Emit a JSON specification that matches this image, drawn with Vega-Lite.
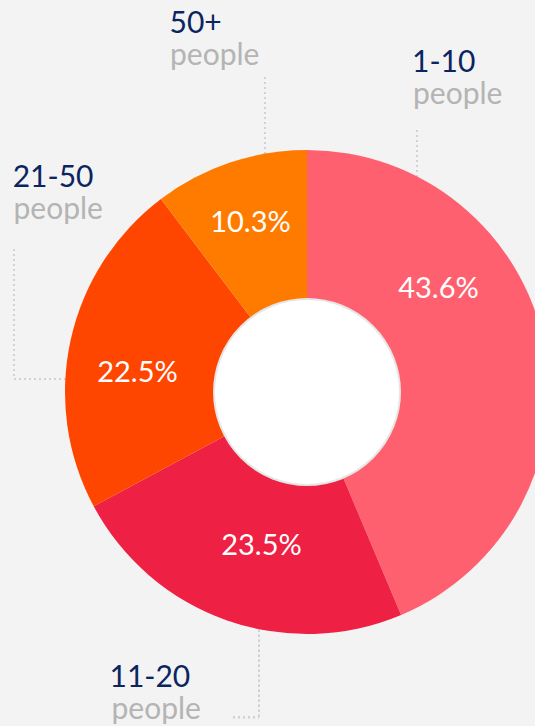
{
  "$schema": "https://vega.github.io/schema/vega-lite/v6.json",
  "width": 535,
  "height": 726,
  "autosize": "none",
  "padding": 0,
  "background": "#f3f3f3",
  "config": {"view": {"stroke": null}, "axis": {"disable": true}},
  "data": {
    "values": [
      {"category": "1-10", "share": 0.436},
      {"category": "11-20", "share": 0.235},
      {"category": "21-50", "share": 0.225},
      {"category": "50+", "share": 0.103}
    ]
  },
  "layer": [
    {
      "mark": {"type": "rule", "stroke": "#d2d2d2", "strokeWidth": 2, "strokeDash": [2, 3]},
      "encoding": {
        "x": {"datum": 0.4545, "type": "quantitative", "scale": {"domain": [-1.2686, 0.94215], "nice": false, "zero": false}},
        "y": {"datum": 1.0826, "type": "quantitative", "scale": {"domain": [-1.38017, 1.61983], "nice": false, "zero": false}},
        "y2": {"datum": 0.85}
      }
    },
    {
      "mark": {"type": "rule", "stroke": "#d2d2d2", "strokeWidth": 2, "strokeDash": [2, 3]},
      "encoding": {
        "x": {"datum": -0.1736, "type": "quantitative", "scale": {"domain": [-1.2686, 0.94215], "nice": false, "zero": false}},
        "y": {"datum": 1.3017, "type": "quantitative", "scale": {"domain": [-1.38017, 1.61983], "nice": false, "zero": false}},
        "y2": {"datum": 0.95}
      }
    },
    {
      "mark": {"type": "rule", "stroke": "#d2d2d2", "strokeWidth": 2, "strokeDash": [2, 3]},
      "encoding": {
        "x": {"datum": -1.2107, "type": "quantitative", "scale": {"domain": [-1.2686, 0.94215], "nice": false, "zero": false}},
        "y": {"datum": 0.5909, "type": "quantitative", "scale": {"domain": [-1.38017, 1.61983], "nice": false, "zero": false}},
        "y2": {"datum": 0.0537}
      }
    },
    {
      "mark": {"type": "rule", "stroke": "#d2d2d2", "strokeWidth": 2, "strokeDash": [2, 3]},
      "encoding": {
        "x": {"datum": -1.2107, "type": "quantitative", "scale": {"domain": [-1.2686, 0.94215], "nice": false, "zero": false}},
        "x2": {"datum": -0.95},
        "y": {"datum": 0.0537, "type": "quantitative", "scale": {"domain": [-1.38017, 1.61983], "nice": false, "zero": false}}
      }
    },
    {
      "mark": {"type": "rule", "stroke": "#d2d2d2", "strokeWidth": 2, "strokeDash": [2, 3]},
      "encoding": {
        "x": {"datum": -0.1983, "type": "quantitative", "scale": {"domain": [-1.2686, 0.94215], "nice": false, "zero": false}},
        "y": {"datum": -0.9, "type": "quantitative", "scale": {"domain": [-1.38017, 1.61983], "nice": false, "zero": false}},
        "y2": {"datum": -1.3442}
      }
    },
    {
      "mark": {"type": "rule", "stroke": "#d2d2d2", "strokeWidth": 2, "strokeDash": [2, 3]},
      "encoding": {
        "x": {"datum": -0.3058, "type": "quantitative", "scale": {"domain": [-1.2686, 0.94215], "nice": false, "zero": false}},
        "x2": {"datum": -0.1983},
        "y": {"datum": -1.3442, "type": "quantitative", "scale": {"domain": [-1.38017, 1.61983], "nice": false, "zero": false}}
      }
    },
    {
      "mark": {"type": "arc", "radius": 242},
      "encoding": {
        "x": {"datum": 0, "type": "quantitative", "scale": {"domain": [-1.2686, 0.94215], "nice": false, "zero": false}},
        "y": {"datum": 0, "type": "quantitative", "scale": {"domain": [-1.38017, 1.61983], "nice": false, "zero": false}},
        "theta": {"field": "share", "type": "quantitative", "stack": true},
        "order": {"field": "category", "type": "ordinal"},
        "color": {
          "field": "category",
          "type": "nominal",
          "legend": null,
          "scale": {"domain": ["1-10", "11-20", "21-50", "50+"], "range": ["#ff6070", "#ee2044", "#ff4600", "#ff7b00"]}
        }
      }
    },
    {
      "transform": [{"filter": "datum.category === '1-10'"}],
      "mark": {"type": "point", "shape": "circle", "filled": true, "fill": "#ffffff", "fillOpacity": 1, "stroke": "#e6e6e6", "strokeWidth": 2, "strokeOpacity": 1, "size": 34596},
      "encoding": {
        "x": {"datum": 0, "type": "quantitative", "scale": {"domain": [-1.2686, 0.94215], "nice": false, "zero": false}},
        "y": {"datum": 0, "type": "quantitative", "scale": {"domain": [-1.38017, 1.61983], "nice": false, "zero": false}}
      }
    },
    {
      "transform": [{"filter": "datum.category === '1-10'"}],
      "mark": {"type": "text", "font": "Lato", "fontSize": 29, "fill": "#ffffff", "align": "center", "baseline": "alphabetic"},
      "encoding": {
        "text": {"field": "share", "type": "quantitative", "format": ".1%"},
        "x": {"datum": 0.5434, "type": "quantitative", "scale": {"domain": [-1.2686, 0.94215], "nice": false, "zero": false}},
        "y": {"datum": 0.3884, "type": "quantitative", "scale": {"domain": [-1.38017, 1.61983], "nice": false, "zero": false}}
      }
    },
    {
      "transform": [{"filter": "datum.category === '11-20'"}],
      "mark": {"type": "text", "font": "Lato", "fontSize": 29, "fill": "#ffffff", "align": "center", "baseline": "alphabetic"},
      "encoding": {
        "text": {"field": "share", "type": "quantitative", "format": ".1%"},
        "x": {"datum": -0.188, "type": "quantitative", "scale": {"domain": [-1.2686, 0.94215], "nice": false, "zero": false}},
        "y": {"datum": -0.6736, "type": "quantitative", "scale": {"domain": [-1.38017, 1.61983], "nice": false, "zero": false}}
      }
    },
    {
      "transform": [{"filter": "datum.category === '21-50'"}],
      "mark": {"type": "text", "font": "Lato", "fontSize": 29, "fill": "#ffffff", "align": "center", "baseline": "alphabetic"},
      "encoding": {
        "text": {"field": "share", "type": "quantitative", "format": ".1%"},
        "x": {"datum": -0.7004, "type": "quantitative", "scale": {"domain": [-1.2686, 0.94215], "nice": false, "zero": false}},
        "y": {"datum": 0.0413, "type": "quantitative", "scale": {"domain": [-1.38017, 1.61983], "nice": false, "zero": false}}
      }
    },
    {
      "transform": [{"filter": "datum.category === '50+'"}],
      "mark": {"type": "text", "font": "Lato", "fontSize": 29, "fill": "#ffffff", "align": "center", "baseline": "alphabetic"},
      "encoding": {
        "text": {"field": "share", "type": "quantitative", "format": ".1%"},
        "x": {"datum": -0.2335, "type": "quantitative", "scale": {"domain": [-1.2686, 0.94215], "nice": false, "zero": false}},
        "y": {"datum": 0.6612, "type": "quantitative", "scale": {"domain": [-1.38017, 1.61983], "nice": false, "zero": false}}
      }
    },
    {
      "transform": [{"filter": "datum.category === '1-10'"}],
      "mark": {"type": "text", "font": "Lato", "fontSize": 30, "fill": "#0b2560", "align": "left", "baseline": "alphabetic"},
      "encoding": {
        "text": {"field": "category"},
        "x": {"datum": 0.4339, "type": "quantitative", "scale": {"domain": [-1.2686, 0.94215], "nice": false, "zero": false}},
        "y": {"datum": 1.3211, "type": "quantitative", "scale": {"domain": [-1.38017, 1.61983], "nice": false, "zero": false}}
      }
    },
    {
      "transform": [{"filter": "datum.category === '1-10'"}],
      "mark": {"type": "text", "font": "Lato", "fontSize": 30, "fill": "#b4b4b4", "align": "left", "baseline": "alphabetic", "text": "people"},
      "encoding": {
        "x": {"datum": 0.438, "type": "quantitative", "scale": {"domain": [-1.2686, 0.94215], "nice": false, "zero": false}},
        "y": {"datum": 1.1921, "type": "quantitative", "scale": {"domain": [-1.38017, 1.61983], "nice": false, "zero": false}}
      }
    },
    {
      "transform": [{"filter": "datum.category === '50+'"}],
      "mark": {"type": "text", "font": "Lato", "fontSize": 30, "fill": "#0b2560", "align": "left", "baseline": "alphabetic"},
      "encoding": {
        "text": {"field": "category"},
        "x": {"datum": -0.5682, "type": "quantitative", "scale": {"domain": [-1.2686, 0.94215], "nice": false, "zero": false}},
        "y": {"datum": 1.4822, "type": "quantitative", "scale": {"domain": [-1.38017, 1.61983], "nice": false, "zero": false}}
      }
    },
    {
      "transform": [{"filter": "datum.category === '50+'"}],
      "mark": {"type": "text", "font": "Lato", "fontSize": 30, "fill": "#b4b4b4", "align": "left", "baseline": "alphabetic", "text": "people"},
      "encoding": {
        "x": {"datum": -0.5661, "type": "quantitative", "scale": {"domain": [-1.2686, 0.94215], "nice": false, "zero": false}},
        "y": {"datum": 1.3512, "type": "quantitative", "scale": {"domain": [-1.38017, 1.61983], "nice": false, "zero": false}}
      }
    },
    {
      "transform": [{"filter": "datum.category === '21-50'"}],
      "mark": {"type": "text", "font": "Lato", "fontSize": 30, "fill": "#0b2560", "align": "left", "baseline": "alphabetic"},
      "encoding": {
        "text": {"field": "category"},
        "x": {"datum": -1.2161, "type": "quantitative", "scale": {"domain": [-1.2686, 0.94215], "nice": false, "zero": false}},
        "y": {"datum": 0.8483, "type": "quantitative", "scale": {"domain": [-1.38017, 1.61983], "nice": false, "zero": false}}
      }
    },
    {
      "transform": [{"filter": "datum.category === '21-50'"}],
      "mark": {"type": "text", "font": "Lato", "fontSize": 30, "fill": "#b4b4b4", "align": "left", "baseline": "alphabetic", "text": "people"},
      "encoding": {
        "x": {"datum": -1.2128, "type": "quantitative", "scale": {"domain": [-1.2686, 0.94215], "nice": false, "zero": false}},
        "y": {"datum": 0.7169, "type": "quantitative", "scale": {"domain": [-1.38017, 1.61983], "nice": false, "zero": false}}
      }
    },
    {
      "transform": [{"filter": "datum.category === '11-20'"}],
      "mark": {"type": "text", "font": "Lato", "fontSize": 30, "fill": "#0b2560", "align": "left", "baseline": "alphabetic"},
      "encoding": {
        "text": {"field": "category"},
        "x": {"datum": -0.8161, "type": "quantitative", "scale": {"domain": [-1.2686, 0.94215], "nice": false, "zero": false}},
        "y": {"datum": -1.2202, "type": "quantitative", "scale": {"domain": [-1.38017, 1.61983], "nice": false, "zero": false}}
      }
    },
    {
      "transform": [{"filter": "datum.category === '11-20'"}],
      "mark": {"type": "text", "font": "Lato", "fontSize": 30, "fill": "#b4b4b4", "align": "left", "baseline": "alphabetic", "text": "people"},
      "encoding": {
        "x": {"datum": -0.8079, "type": "quantitative", "scale": {"domain": [-1.2686, 0.94215], "nice": false, "zero": false}},
        "y": {"datum": -1.3512, "type": "quantitative", "scale": {"domain": [-1.38017, 1.61983], "nice": false, "zero": false}}
      }
    }
  ]
}
